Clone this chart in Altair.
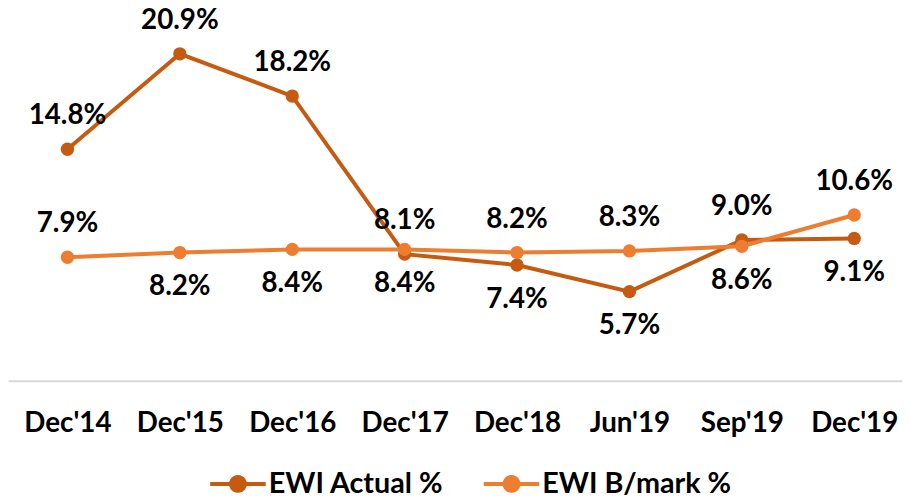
import math
import altair as alt
import pandas as pd

periods = ["Dec'14", "Dec'15", "Dec'16", "Dec'17", "Dec'18", "Jun'19", "Sep'19", "Dec'19"]
series_names = ["EWI Actual %", "EWI B/mark %"]
actual = [14.8, 20.9, 18.2, 8.1, 7.4, 5.7, 9.0, 9.1]
benchmark = [7.9, 8.2, 8.4, 8.4, 8.2, 8.3, 8.6, 10.6]
actual_side = ["above", "above", "above", "above", "below", "below", "above", "below"]
bench_side = ["above", "below", "below", "below", "above", "above", "below", "above"]
colors = ["#C55A11", "#ED7D31"]

rows = []
for i, p in enumerate(periods):
    rows.append({"idx": i, "period": p, "series": series_names[0], "value": actual[i],
                 "side": actual_side[i], "label": f"{actual[i]:.1f}%"})
    rows.append({"idx": i, "period": p, "series": series_names[1], "value": benchmark[i],
                 "side": bench_side[i], "label": f"{benchmark[i]:.1f}%"})
df = pd.DataFrame(rows)

FONT = "Lato"
FS = 28
W, H = 902, 374

label_expr = "[" + ",".join("'" + p.replace("'", "\\'") + "'" for p in periods) + "][datum.value]"
x = alt.X("idx:Q",
          scale=alt.Scale(domain=[-0.529, 7.425], nice=False, zero=False),
          axis=alt.Axis(title=None, domain=True, domainColor="#D9D9D9", domainWidth=2,
                        ticks=False, grid=False, labelAngle=0,
                        values=list(range(len(periods))), labelExpr=label_expr,
                        labelFont=FONT, labelFontSize=FS, labelFontWeight="bold",
                        labelColor="#000000", labelBaseline="middle", labelPadding=43,
                        labelFlush=False, labelOverlap=False))
y = alt.Y("value:Q", scale=alt.Scale(domain=[0, 23.69], nice=False, zero=True), axis=None)

# legend symbol: short line with a dot in the middle (polygon circle, no arc commands)
r = 0.5
circle = "M" + "L".join(f"{r*math.cos(2*math.pi*k/24):.3f},{r*math.sin(2*math.pi*k/24):.3f}" for k in range(24)) + "Z"
legend_path = "M-2,0L2,0" + circle

color = alt.Color("series:N", scale=alt.Scale(domain=series_names, range=colors),
                  legend=alt.Legend(title=None, orient="none", direction="horizontal",
                                    legendX=216, legendY=462,
                                    symbolType=legend_path, symbolSize=784, symbolStrokeWidth=4,
                                    labelFont=FONT, labelFontSize=29, labelFontWeight="bold",
                                    labelColor="#000000", labelOffset=15, columnPadding=32,
                                    labelLimit=400))

base = alt.Chart(df)

lines = base.mark_line(strokeWidth=4).encode(x=x, y=y, color=color)
points = base.mark_point(size=180, filled=True, opacity=1).encode(x=x, y=y, color=color)

labels_above = base.transform_filter(alt.datum.side == "above").mark_text(
    font=FONT, fontSize=FS, fontWeight="bold", color="#000000", dy=-33, baseline="middle").encode(
    x=x, y=y, text="label:N")
labels_below = base.transform_filter(alt.datum.side == "below").mark_text(
    font=FONT, fontSize=FS, fontWeight="bold", color="#000000", dy=35, baseline="middle").encode(
    x=x, y=y, text="label:N")

chart = alt.layer(lines, points, labels_above, labels_below).properties(
    width=W, height=H,
    autosize=alt.AutoSizeParams(type="none"),
    padding={"left": 0, "top": 0, "right": 0, "bottom": 113},
).configure_view(stroke=None)

chart.save("out.html", embed_options={"renderer": "svg", "actions": False})
